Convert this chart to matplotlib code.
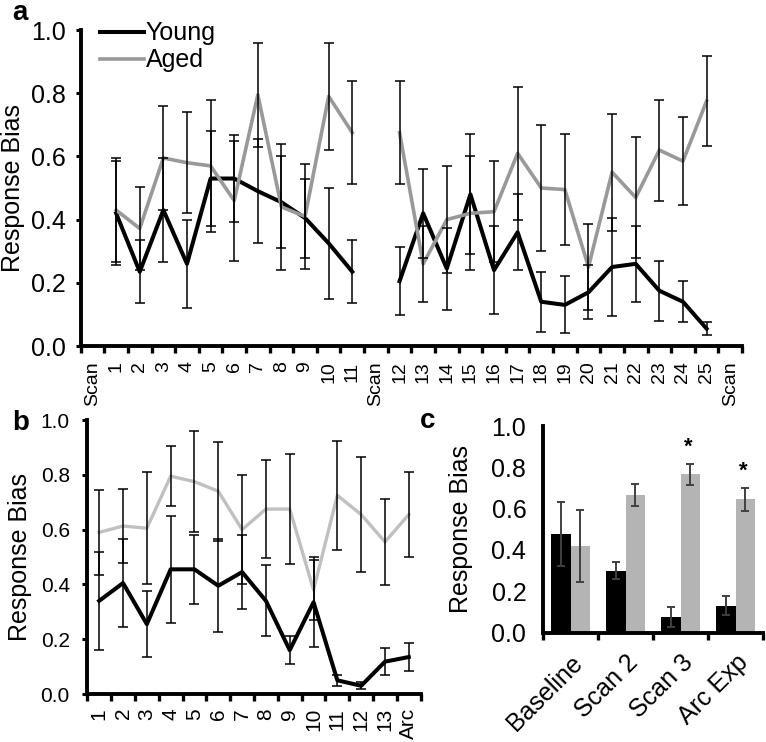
import numpy as np
import matplotlib
matplotlib.use("Agg")
import matplotlib.pyplot as plt

plt.rcParams.update({
    "font.family": ["Liberation Sans", "DejaVu Sans"],
    "axes.linewidth": 2.8,
})

# ---------------- data ----------------
# panel a: slots = Scan, 1-11, Scan, 12-25, Scan
labels_a = ["Scan"] + [str(i) for i in range(1, 12)] + ["Scan"] + \
           [str(i) for i in range(12, 26)] + ["Scan"]
nan = np.nan
young_a = [nan, 0.42, 0.235, 0.43, 0.26, 0.53, 0.53, 0.49, 0.455, 0.405, 0.325, 0.235,
           nan, 0.205, 0.42, 0.245, 0.48, 0.24, 0.36, 0.14, 0.13, 0.17, 0.25, 0.26,
           0.175, 0.14, 0.055, nan]
young_a_err = [nan, 0.165, 0.10, 0.165, 0.14, 0.15, 0.137, 0.165, 0.145, 0.125, 0.175, 0.10,
               nan, 0.108, 0.14, 0.13, 0.19, 0.14, 0.12, 0.095, 0.09, 0.085, 0.155, 0.12,
               0.095, 0.065, 0.02, nan]
aged_a = [nan, 0.43, 0.372, 0.595, 0.58, 0.57, 0.46, 0.795, 0.44, 0.41, 0.79, 0.675,
          nan, 0.675, 0.26, 0.40, 0.42, 0.425, 0.61, 0.50, 0.495, 0.25, 0.55, 0.47,
          0.62, 0.585, 0.775, nan]
aged_a_err = [nan, 0.165, 0.13, 0.165, 0.16, 0.21, 0.19, 0.165, 0.2, 0.165, 0.17, 0.163,
              nan, 0.163, 0.12, 0.17, 0.18, 0.16, 0.21, 0.20, 0.175, 0.135, 0.185, 0.19,
              0.16, 0.14, 0.143, nan]

# panel b
labels_b = [str(i) for i in range(1, 14)] + ["Arc"]
young_b = [0.34, 0.405, 0.255, 0.455, 0.455, 0.395, 0.445, 0.34, 0.16, 0.335, 0.05, 0.03, 0.118, 0.135]
young_b_err = [0.18, 0.16, 0.12, 0.195, 0.125, 0.17, 0.135, 0.13, 0.05, 0.165, 0.02, 0.012, 0.05, 0.052]
aged_b = [0.59, 0.613, 0.605, 0.795, 0.775, 0.74, 0.60, 0.675, 0.675, 0.38, 0.725, 0.655, 0.555, 0.655]
aged_b_err = [0.155, 0.135, 0.205, 0.11, 0.185, 0.18, 0.2, 0.18, 0.2, 0.11, 0.2, 0.21, 0.157, 0.155]

# panel c
labels_c = ["Baseline", "Scan 2", "Scan 3", "Arc Exp"]
young_c = [0.475, 0.30, 0.076, 0.13]
young_c_err = [0.155, 0.04, 0.047, 0.045]
aged_c = [0.42, 0.667, 0.767, 0.645]
aged_c_err = [0.175, 0.052, 0.051, 0.055]
signif_c = [False, False, True, True]

W, H = 766, 742
fig = plt.figure(figsize=(W / 100, H / 100), dpi=100)


def px_axes(l, t, r, b):
    return fig.add_axes([l / W, 1 - b / H, (r - l) / W, (b - t) / H])


def style(ax, n, tick_fs, ylab_x, ytick_len=3.6, ytick_pad=8.5, xpad=11):
    ax.spines["top"].set_visible(False)
    ax.spines["right"].set_visible(False)
    ax.set_xlim(0, n)
    ax.set_ylim(0, 1)
    ax.set_yticks(np.arange(0, 1.01, 0.2))
    ax.set_yticklabels([f"{v:.1f}" for v in np.arange(0, 1.01, 0.2)], fontsize=tick_fs)
    ax.tick_params(axis="y", direction="out", length=ytick_len, width=2.2, pad=ytick_pad)
    ax.set_xticks(np.arange(0, n + 1))
    ax.set_xticklabels([])
    ax.tick_params(axis="x", which="major", direction="out", length=5, width=2.4)
    ax.tick_params(axis="x", which="minor", length=0, pad=xpad)
    ax.set_ylabel("Response Bias", fontsize=18)
    ax.yaxis.set_label_coords(ylab_x, 0.5)


# ---------------- panel a ----------------
ax = px_axes(80.7, 30, 742, 346)
xa = np.arange(len(labels_a)) + 0.5
ax.plot(xa, young_a, color="black", lw=2.9, label="Young", zorder=2)
ax.plot(xa, aged_a, color="#999999", lw=2.6, label="Aged", zorder=3)
for m, e in [(young_a, young_a_err), (aged_a, aged_a_err)]:
    m = np.array(m); e = np.array(e); ok = ~np.isnan(m)
    ax.errorbar(xa[ok], m[ok], yerr=e[ok], fmt="none", ecolor="black",
                elinewidth=1.1, capsize=3.6, capthick=1.1, zorder=4)
style(ax, len(labels_a), 18, -0.084, ytick_pad=7)
ax.set_xticks(xa, minor=True)
ax.set_xticklabels(labels_a, minor=True, rotation=90, fontsize=14)
ax.legend(loc="upper left", bbox_to_anchor=(0.029, 1.027), frameon=False,
          fontsize=18, handlelength=1.75, handletextpad=0.08, borderpad=0,
          borderaxespad=0, labelspacing=0.12)

# ---------------- panel b ----------------
ax = px_axes(87.3, 420, 420.7, 694)
xb = np.arange(len(labels_b)) + 0.5
ax.plot(xb, young_b, color="black", lw=2.9, zorder=2)
ax.plot(xb, aged_b, color="#c0c0c0", lw=2.4, zorder=3)
for m, e in [(young_b, young_b_err), (aged_b, aged_b_err)]:
    ax.errorbar(xb, m, yerr=e, fmt="none", ecolor="black",
                elinewidth=1.1, capsize=3.6, capthick=1.1, zorder=4)
style(ax, len(labels_b), 15, -0.166, ytick_pad=9, xpad=10)
ax.set_xticks(xb, minor=True)
ax.set_xticklabels(labels_b, minor=True, rotation=90, fontsize=15)

# ---------------- panel c ----------------
ax = px_axes(543, 426, 763, 632.5)
xc = np.arange(len(labels_c)) + 0.5
bw = 0.35
ax.bar(xc - bw / 2, young_c, bw, color="black", zorder=2)
ax.bar(xc + bw / 2, aged_c, bw, color="#b4b4b4", zorder=2)
ax.errorbar(xc - bw / 2, young_c, yerr=young_c_err, fmt="none", ecolor="#404040",
            elinewidth=1.4, capsize=3.2, capthick=1.4, zorder=3)
ax.errorbar(xc + bw / 2, aged_c, yerr=aged_c_err, fmt="none", ecolor="#404040",
            elinewidth=1.4, capsize=3.2, capthick=1.4, zorder=3)
for i, s in enumerate(signif_c):
    if s:
        ax.text(xc[i] + bw / 2 - 0.04, aged_c[i] + aged_c_err[i] + 0.055, "*", ha="center",
                va="baseline", fontsize=16, fontweight="bold")
style(ax, len(labels_c), 18, -0.318, ytick_len=0, ytick_pad=12)
ax.set_xticks(xc, minor=True)
ax.set_xticklabels(labels_c, minor=True, rotation=45, ha="right", va="top",
                   rotation_mode="anchor", fontsize=18)
ax.tick_params(axis="x", which="minor", pad=13)

# panel letters
fig.text(12 / W, 1 - 20 / H, "a", fontsize=20, fontweight="bold")
fig.text(12 / W, 1 - 430 / H, "b", fontsize=20, fontweight="bold")
fig.text(420 / W, 1 - 428 / H, "c", fontsize=20, fontweight="bold")

fig.savefig("out.png", dpi=100)
